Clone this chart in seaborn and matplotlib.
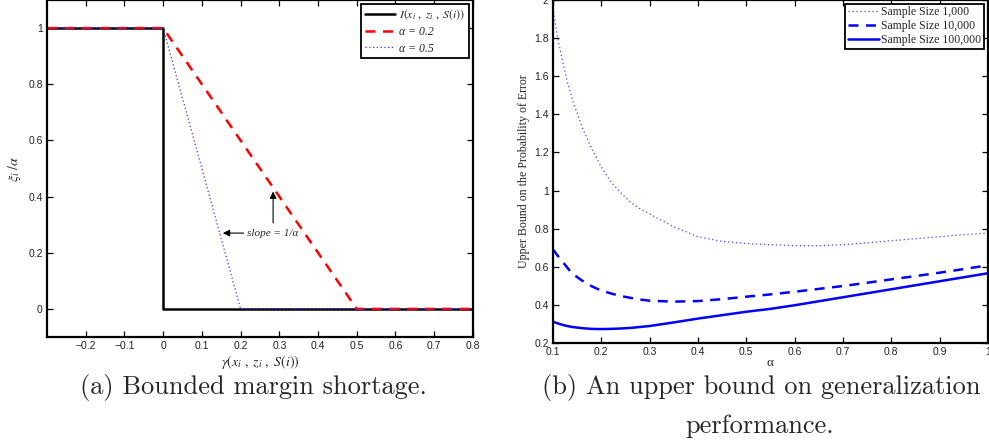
import matplotlib
matplotlib.use("Agg")
import matplotlib.pyplot as plt
import seaborn as sns

# (a) bounded margin shortage
gamma_ind = [-0.3, 0.0, 0.0, 0.8]
ind_vals = [1, 1, 0, 0]
gamma_a02 = [-0.3, 0.0, 0.5, 0.8]
short_a02 = [1, 1, 0, 0]
gamma_a05 = [-0.3, 0.0, 0.2, 0.8]
short_a05 = [1, 1, 0, 0]

# (b) upper bound vs alpha
alpha = [0.1, 0.11, 0.12, 0.13, 0.14, 0.16, 0.18, 0.2, 0.22, 0.24, 0.26, 0.28, 0.3, 0.35, 0.4, 0.45, 0.5,
         0.55, 0.6, 0.65, 0.7, 0.75, 0.8, 0.85, 0.9, 0.95, 1.0]
bound_1k = [1.96, 1.80, 1.68, 1.57, 1.48, 1.335, 1.222, 1.125, 1.045, 0.99, 0.94, 0.905, 0.877, 0.81, 0.758,
            0.733, 0.722, 0.716, 0.711, 0.710, 0.716, 0.725, 0.737, 0.747, 0.758, 0.768, 0.777]
bound_10k = [0.692, 0.658, 0.627, 0.595, 0.565, 0.528, 0.498, 0.475, 0.46, 0.447, 0.437, 0.428, 0.422, 0.417,
             0.42, 0.43, 0.443, 0.455, 0.469, 0.484, 0.499, 0.516, 0.534, 0.551, 0.569, 0.588, 0.608]
bound_100k = [0.312, 0.303, 0.295, 0.289, 0.284, 0.278, 0.274, 0.273, 0.274, 0.276, 0.279, 0.284, 0.289,
              0.308, 0.328, 0.346, 0.364, 0.379, 0.398, 0.419, 0.44, 0.461, 0.482, 0.503, 0.524, 0.545, 0.566]

xt_a = [-0.2, -0.1, 0, 0.1, 0.2, 0.3, 0.4, 0.5, 0.6, 0.7, 0.8]
xt_a_lab = ["\u22120.2", "\u22120.1", "0", "0.1", "0.2", "0.3", "0.4", "0.5", "0.6", "0.7", "0.8"]
yt_a = [0, 0.2, 0.4, 0.6, 0.8, 1]
yt_a_lab = ["0", "0.2", "0.4", "0.6", "0.8", "1"]
xt_b = [0.1, 0.2, 0.3, 0.4, 0.5, 0.6, 0.7, 0.8, 0.9, 1.0]
xt_b_lab = ["0.1", "0.2", "0.3", "0.4", "0.5", "0.6", "0.7", "0.8", "0.9", "1"]
yt_b = [0.2, 0.4, 0.6, 0.8, 1.0, 1.2, 1.4, 1.6, 1.8, 2.0]
yt_b_lab = ["0.2", "0.4", "0.6", "0.8", "1", "1.2", "1.4", "1.6", "1.8", "2"]

sns.set_style("ticks")
plt.rcParams["mathtext.fontset"] = "stix"
plt.rcParams["font.family"] = ["Liberation Sans", "DejaVu Sans"]

fig = plt.figure(figsize=(9.89, 4.44), dpi=100)
ax1 = fig.add_axes([0.0475, 0.241, 0.4307, 0.759])
ax2 = fig.add_axes([0.559, 0.2275, 0.44, 0.7725])

serif = "Liberation Serif"

sns.lineplot(x=gamma_ind, y=ind_vals, ax=ax1, sort=False, estimator=None, color="black",
             lw=1.8, label=r"$I(x_i\ ,\ z_i\ ,\ S(i))$")
sns.lineplot(x=gamma_a02, y=short_a02, ax=ax1, sort=False, estimator=None, color="#ff0000",
             lw=1.8, linestyle=(0, (4, 3)), label="\u03b1 = 0.2")
sns.lineplot(x=gamma_a05, y=short_a05, ax=ax1, sort=False, estimator=None, color="#3333ff",
             lw=0.9, linestyle=(0, (1, 2)), label="\u03b1 = 0.5")

ax1.set_xlim(-0.3, 0.8)
ax1.set_ylim(-0.1, 1.1)
ax1.set_xticks(xt_a, xt_a_lab)
ax1.set_yticks(yt_a, yt_a_lab)
ax1.set_xlabel(r"$\gamma(x_i\ ,\ z_i\ ,\ S(i))$", fontsize=10, labelpad=1)
ax1.set_ylabel(r"$\xi_i\ /\alpha$", fontsize=10, labelpad=4)

ax1.annotate("", xy=(0.147, 0.27), xytext=(0.215, 0.27),
             arrowprops=dict(arrowstyle="-|>", color="black", lw=0.8, mutation_scale=10))
ax1.text(0.217, 0.27, "slope = 1/\u03b1", family=serif, style="italic", fontsize=8, va="center", ha="left")
ax1.annotate("", xy=(0.284, 0.428), xytext=(0.284, 0.296),
             arrowprops=dict(arrowstyle="-|>", color="black", lw=0.8, mutation_scale=10))

leg1 = ax1.legend(loc="upper right", prop=dict(family=serif, style="italic", size=8.5),
                  fancybox=False, edgecolor="black", framealpha=1, handlelength=2.6,
                  borderaxespad=0.35, labelspacing=0.35, handletextpad=0.3, borderpad=0.3)
leg1.get_frame().set_linewidth(1.3)

sns.lineplot(x=alpha, y=bound_1k, ax=ax2, color="#4444ff", lw=0.9, linestyle=(0, (1, 2.2)),
             label="Sample Size 1,000")
sns.lineplot(x=alpha, y=bound_10k, ax=ax2, color="#0000ff", lw=1.8, linestyle=(0, (4, 3)),
             label="Sample Size 10,000")
sns.lineplot(x=alpha, y=bound_100k, ax=ax2, color="#0000ff", lw=1.8,
             label="Sample Size 100,000")

ax2.set_xlim(0.1, 1.0)
ax2.set_ylim(0.2, 2.0)
ax2.set_xticks(xt_b, xt_b_lab)
ax2.set_yticks(yt_b, yt_b_lab)
ax2.set_xlabel("\u03b1", family=serif, fontsize=9.5, labelpad=0)
ax2.set_ylabel("Upper Bound on the Probability of Error", family=serif, fontsize=8.6, labelpad=3)

leg2 = ax2.legend(loc="upper right", prop=dict(family=serif, size=8.5),
                  fancybox=False, edgecolor="black", framealpha=1, handlelength=2.6,
                  borderaxespad=0.3, labelspacing=0.15, handletextpad=0.2, borderpad=0.25)
leg2.get_frame().set_linewidth(1.3)

for ax in (ax1, ax2):
    for s in ax.spines.values():
        s.set_visible(True)
        s.set_linewidth(1.6)
        s.set_color("black")
    ax.tick_params(direction="in", top=True, right=True, length=4, width=0.9,
                   labelsize=7.5, colors="black", labelcolor="#222222", pad=3)

fig.text(0.256, 0.128, "(a) Bounded margin shortage.", family="cmr10", fontsize=19,
         ha="center", va="center")
fig.text(0.770, 0.128, "(b) An upper bound on generalization", family="cmr10", fontsize=19,
         ha="center", va="center")
fig.text(0.768, 0.041, "performance.", family="cmr10", fontsize=19, ha="center", va="center")

fig.savefig("out.png", dpi=100)
